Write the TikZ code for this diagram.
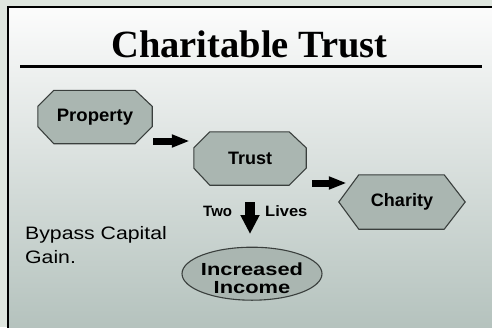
\documentclass[tikz,border=0pt]{standalone}
\usepackage{fontspec}
\setmainfont{Liberation Serif}
\setsansfont{Liberation Sans}
\usetikzlibrary{calc,arrows.meta,backgrounds}
\definecolor{outbg}{HTML}{DFE6DF}
\definecolor{topin}{HTML}{FCFCFC}
\definecolor{botin}{HTML}{B3C1BC}
\definecolor{shapefill}{HTML}{AAB6B1}
\definecolor{shapeline}{HTML}{3A3F3D}
\tikzset{
  lbl/.style={inner sep=0pt, font=\sffamily\bfseries\fontsize{18}{20}\selectfont},
  holder/.style={inner sep=0pt, draw=none},
  shp/.style={fill=shapefill, draw=shapeline, line width=1.1pt},
  plain/.style={inner sep=0pt, font=\sffamily\fontsize{18}{24}\selectfont, anchor=base west},
  small/.style={inner sep=0pt, font=\sffamily\bfseries\fontsize{15}{17}\selectfont, anchor=base west},
  blockarrow/.style={line width=7pt, -{Triangle[length=18pt,width=12pt]}},
  downarrow/.style={line width=10pt, -{Triangle[length=19pt,width=18pt]}}
}
\begin{document}
\begin{tikzpicture}[x=1pt,y=-1pt]
\useasboundingbox (0,0) rectangle (492,327);
% title and texts
\node[inner sep=0pt, anchor=base, font=\rmfamily\bfseries\fontsize{38.5}{40}\selectfont] (title) at (249.5,57) {Charitable Trust};
\coordinate (ruleL) at (20,66.5);
\coordinate (ruleR) at (482,66.5);
\draw[line width=3pt] (ruleL) -- (ruleR);
% nodes
\node[holder, lbl, minimum width=114pt, minimum height=53pt] (p) at (95,117) {\scalebox{1.03}[1]{Property}};
\node[holder, lbl, minimum width=112pt, minimum height=53pt] (t) at (250,158.5) {Trust};
\node[holder, lbl, minimum width=126pt, minimum height=54pt] (c) at (402,202) {Charity};
\node[holder, lbl, font=\sffamily\bfseries\fontsize{17.5}{17.5}\selectfont, align=center] (ii) at (252,278) {\scalebox{1.25}[1]{Increased}\\\scalebox{1.25}[1]{Income}};
\node[plain] (bp1) at (25,239) {\scalebox{1.18}[1]{Bypass Capital}};
\node[plain] (bp2) at (25,263) {\scalebox{1.18}[1]{Gain.}};
\node[small] (two) at (203,216) {Two};
\node[small] (lives) at (265,216) {\scalebox{1.1}[1]{Lives}};
% arrows
\coordinate (a1s) at ($(p.east)+(1,24)$);
\coordinate (a1e) at ($(t.west)+(-4,-17.5)$);
\draw[blockarrow] (a1s) -- (a1e);
\coordinate (a2s) at ($(t.east)+(6,24.5)$);
\coordinate (a2e) at ($(c.west)+(8,-19)$);
\draw[blockarrow] (a2s) -- (a2e);
\coordinate (a3s) at ($(t.south)+(0,17)$);
\coordinate (a3e) at ($(ii.center)+(-2,-44)$);
\draw[downarrow] (a3s) -- (a3e);
\begin{pgfonlayer}{background}
  \fill[outbg] (0,0) rectangle (492,327);
  \fill[top color=topin, bottom color=botin, shading angle=0] (8,7) rectangle (500,335);
  \draw[line width=2.2pt] (500,7) -- (8,7) -- (8,335);
  % Property octagon
  \draw[shp] ($(p.north west)+(16,0)$) -- ($(p.north east)+(-17,0)$) -- ($(p.north east)+(0,16)$) -- ($(p.south east)+(0,-17)$) -- ($(p.south east)+(-17,0)$) -- ($(p.south west)+(16,0)$) -- ($(p.south west)+(0,-17)$) -- ($(p.north west)+(0,16)$) -- cycle;
  % Trust octagon
  \draw[shp] ($(t.north west)+(16,0)$) -- ($(t.north east)+(-17,0)$) -- ($(t.north east)+(0,16)$) -- ($(t.south east)+(0,-17)$) -- ($(t.south east)+(-17,0)$) -- ($(t.south west)+(16,0)$) -- ($(t.south west)+(0,-17)$) -- ($(t.north west)+(0,16)$) -- cycle;
  % Charity hexagon
  \draw[shp] (c.west) -- ($(c.north west)+(20,0)$) -- ($(c.north east)+(-21,0)$) -- (c.east) -- ($(c.south east)+(-21,0)$) -- ($(c.south west)+(20,0)$) -- cycle;
  % Increased Income ellipse
  \draw[shp] ($(ii.center)+(0,-4.3)$) ellipse [x radius=70pt, y radius=26.5pt];
\end{pgfonlayer}
\end{tikzpicture}
\end{document}
